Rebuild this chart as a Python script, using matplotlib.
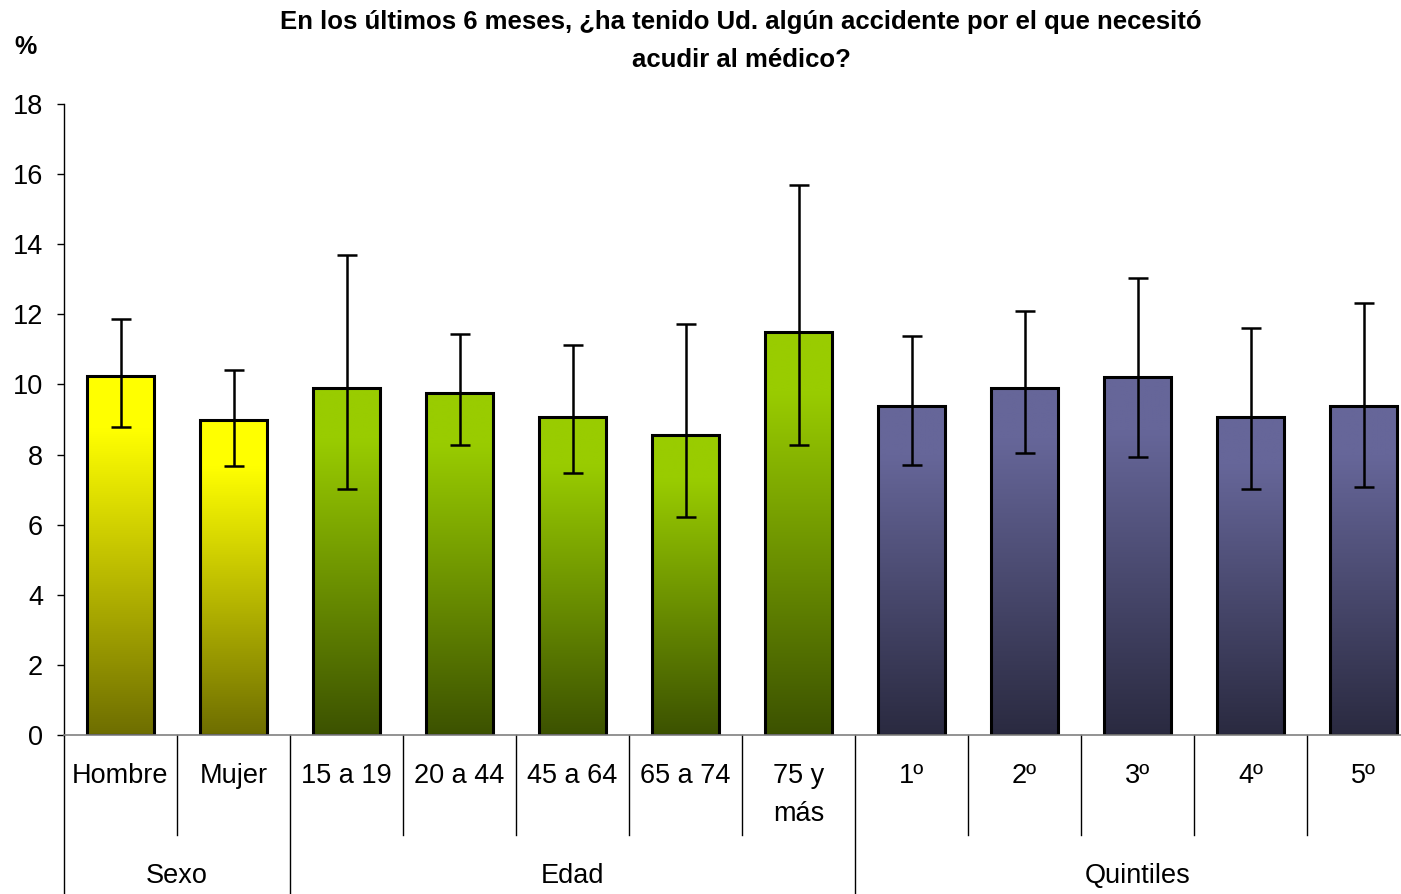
import numpy as np
import matplotlib.pyplot as plt
import matplotlib.transforms as mtransforms
from matplotlib.colors import to_rgb

plt.rcParams['font.family'] = ['Liberation Sans', 'DejaVu Sans']

# datos
categorias = ['Hombre', 'Mujer', '15 a 19', '20 a 44', '45 a 64', '65 a 74', '75 y\nmás',
              '1º', '2º', '3º', '4º', '5º']
valores = [10.25, 9.0, 9.9, 9.75, 9.07, 8.56, 11.5, 9.38, 9.9, 10.2, 9.07, 9.38]
err_sup = [11.87, 10.4, 13.7, 11.45, 11.12, 11.73, 15.7, 11.37, 12.1, 13.05, 11.6, 12.32]
err_inf = [8.8, 7.68, 7.03, 8.28, 7.47, 6.23, 8.28, 7.7, 8.05, 7.92, 7.03, 7.08]
grupos = ['Sexo', 'Edad', 'Quintiles']
grupo_de = [0, 0, 1, 1, 1, 1, 1, 2, 2, 2, 2, 2]
color_claro = ['#FFFF00', '#99CC00', '#666699']
color_oscuro = ['#6E6E00', '#3C5200', '#2A2A40']

W, H = 1401, 894
fig = plt.figure(figsize=(W / 100, H / 100), dpi=100)
x0, x1 = 64, 64 + 12 * 113
y0, y1 = 735, 104
ax = fig.add_axes([x0 / W, 1 - y0 / H, (x1 - x0) / W, (y0 - y1) / H])

x = np.arange(len(categorias))
ancho = 0.6

# barras con degradado
n = 200
t = np.linspace(0, 1, n)
t = np.clip(t / 0.85, 0, 1)  # parte superior casi constante
for i, v in enumerate(valores):
    g = grupo_de[i]
    c1 = np.array(to_rgb(color_oscuro[g]))
    c2 = np.array(to_rgb(color_claro[g]))
    img = c1[None, :] * (1 - t[:, None]) + c2[None, :] * t[:, None]
    img = img[:, None, :]
    ax.imshow(img, extent=[x[i] - ancho / 2, x[i] + ancho / 2, 0, v], origin='lower',
              aspect='auto', zorder=1, interpolation='bilinear')
ax.bar(x, valores, width=ancho, fill=False, edgecolor='black', linewidth=2.2, zorder=2)

yerr = [np.array(valores) - np.array(err_inf), np.array(err_sup) - np.array(valores)]
ax.errorbar(x, valores, yerr=yerr, fmt='none', ecolor='black', elinewidth=1.8,
            capsize=7, capthick=1.8, zorder=3)

ax.set_xlim(-0.5, len(categorias) - 0.5)
ax.set_ylim(0, 18)
ax.set_yticks(range(0, 19, 2))
ax.tick_params(axis='y', direction='out', length=5, width=1, labelsize=19.5, pad=10)
ax.set_xticks([])
for s in ['top', 'right']:
    ax.spines[s].set_visible(False)
ax.spines['left'].set_linewidth(1)
ax.spines['bottom'].set_color('#808080')
ax.spines['bottom'].set_linewidth(1.2)

# etiquetas de categorias y separadores
tr = mtransforms.blended_transform_factory(ax.transData, ax.transAxes)
alto = y0 - y1
for i, c in enumerate(categorias):
    ax.text(x[i], -28 / alto, c, transform=tr, ha='center', va='top', fontsize=19.5,
            linespacing=1.6)
limites_grupo = [-0.5, 1.5, 6.5, 11.5]
for b in np.arange(-0.5, len(categorias), 1.0):
    fondo = -160 / alto if b in limites_grupo else -100 / alto
    ax.plot([b, b], [0, fondo], transform=tr, color='black', lw=1, clip_on=False)
for k, gname in enumerate(grupos):
    xc = (limites_grupo[k] + limites_grupo[k + 1]) / 2
    ax.text(xc, -128 / alto, gname, transform=tr, ha='center', va='top', fontsize=19.5)

fig.text(741 / W, 1 - 22 / H, 'En los últimos 6 meses, ¿ha tenido Ud. algún accidente por el que necesitó',
         ha='center', va='center', fontsize=18.5, fontweight='bold')
fig.text(741 / W, 1 - 60 / H, 'acudir al médico?',
         ha='center', va='center', fontsize=18.5, fontweight='bold')
fig.text(25 / W, 1 - 47 / H, '%', ha='center', va='center', fontsize=18, fontweight='bold')

fig.savefig('out.png', dpi=100)
